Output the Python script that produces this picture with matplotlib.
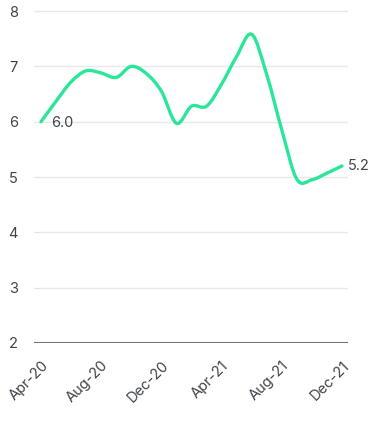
import matplotlib
matplotlib.use('Agg')
import matplotlib.pyplot as plt
from matplotlib.path import Path
from matplotlib.patches import PathPatch

months = ['Apr-20', 'May-20', 'Jun-20', 'Jul-20', 'Aug-20', 'Sep-20', 'Oct-20',
          'Nov-20', 'Dec-20', 'Jan-21', 'Feb-21', 'Mar-21', 'Apr-21', 'May-21',
          'Jun-21', 'Jul-21', 'Aug-21', 'Sep-21', 'Oct-21', 'Nov-21', 'Dec-21']
values = [6.0, 6.37, 6.72, 6.92, 6.88, 6.80, 7.0, 6.87, 6.55, 5.97, 6.28,
          6.28, 6.68, 7.18, 7.58, 6.85, 5.85, 4.96, 4.95, 5.07, 5.2]
tick_labels = ['Apr-20', 'Aug-20', 'Dec-20', 'Apr-21', 'Aug-21', 'Dec-21']
y_ticks = [2, 3, 4, 5, 6, 7, 8]

LINE = '#2ae699'
TEXT = '#3f4449'

plt.rcParams['font.family'] = ['Inter', 'DejaVu Sans']

fig = plt.figure(figsize=(3.78, 4.33), dpi=100)
ax = fig.add_axes([34 / 378, 1 - 343 / 433, 314 / 378, 337.5 / 433])

x = list(range(len(values)))

# smooth curve through the points (catmull-rom as cubic bezier)
pts = list(zip(x, values))
verts = [pts[0]]
codes = [Path.MOVETO]
for i in range(len(pts) - 1):
    p0 = pts[max(i - 1, 0)]
    p1 = pts[i]
    p2 = pts[i + 1]
    p3 = pts[min(i + 2, len(pts) - 1)]
    c1 = (p1[0] + (p2[0] - p0[0]) / 6, p1[1] + (p2[1] - p0[1]) / 6)
    c2 = (p2[0] - (p3[0] - p1[0]) / 6, p2[1] - (p3[1] - p1[1]) / 6)
    verts += [c1, c2, p2]
    codes += [Path.CURVE4] * 3
ax.add_patch(PathPatch(Path(verts, codes), fill=False, edgecolor=LINE,
                       linewidth=2.4, capstyle='round', joinstyle='round', zorder=3))

ax.set_xlim(-7 / 15.05, 20 + 6 / 15.05)
ax.set_ylim(2, 8.1)

for y in y_ticks[1:]:
    ax.axhline(y, color='#e8e8e8', linewidth=1, zorder=1)
ax.axhline(2, color='#6f7478', linewidth=1.5, zorder=2)

for s in ax.spines.values():
    s.set_visible(False)

ax.set_yticks(y_ticks)
ax.set_yticklabels([str(v) for v in y_ticks])
ax.set_xticks([months.index(m) for m in tick_labels])
ax.set_xticklabels(tick_labels, rotation=45, ha='right', va='top', rotation_mode='anchor')
ax.tick_params(axis='y', length=0, pad=11.5, labelsize=10.5, labelcolor=TEXT)
ax.tick_params(axis='x', length=0, pad=11, labelsize=10.5, labelcolor=TEXT)

ax.annotate(f'{values[0]:.1f}', (x[0], values[0]), xytext=(7, -1), textcoords='offset points',
            ha='left', va='center', fontsize=10.5, color=TEXT)
ax.annotate(f'{values[-1]:.1f}', (x[-1], values[-1]), xytext=(4.5, 0), textcoords='offset points',
            ha='left', va='center', fontsize=10.5, color=TEXT)

fig.savefig('out.png', dpi=100)
